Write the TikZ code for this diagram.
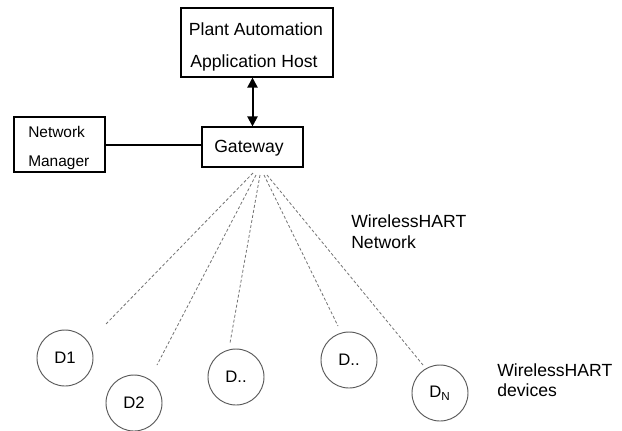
\documentclass[tikz,border=0pt]{standalone}
\usepackage{fontspec}
\setmainfont{Liberation Sans}
\usetikzlibrary{arrows.meta}
\tikzset{
  box/.style={draw=black, line width=0.8pt, rectangle, inner sep=0pt},
  dev/.style={draw=black!65, line width=0.7pt, circle, minimum size=42pt, inner sep=0pt, font=\fontsize{12.5}{14}\selectfont},
  lbl/.style={inner sep=0pt, font=\fontsize{13.2}{15}\selectfont},
  smalllbl/.style={inner sep=0pt, font=\fontsize{11.6}{14}\selectfont},
  radio/.style={draw=black!55, line width=0.6pt, dash pattern=on 2.2pt off 1.6pt},
  biarrow/.style={line width=1.5pt, {Triangle[width=7.5pt,length=7.5pt]}-{Triangle[width=7.5pt,length=7.5pt]}},
  wire/.style={line width=1.5pt}
}
\begin{document}
\begin{tikzpicture}[x=0.75pt,y=-0.75pt]
\useasboundingbox[fill=white] (0,0) rectangle (622,430);

% boxes
\node[box, minimum width=114pt, minimum height=51.75pt] (plant) at (257,42.5) {};
\node[lbl, anchor=base] (plantA) at (256,35) {Plant Automation};
\node[lbl, anchor=base] (plantB) at (254,67) {Application Host};

\node[box, minimum width=68.25pt, minimum height=41.25pt] (nm) at (59.5,144.5) {};
\node[smalllbl, anchor=base west] (nmA) at (28,137) {Network};
\node[smalllbl, anchor=base west] (nmB) at (28,166) {Manager};

\node[box, minimum width=75.75pt, minimum height=30pt] (gw) at (252.5,147) {};
\node[lbl, anchor=base] (gwT) at (249,152) {Gateway};

% connectors
\draw[biarrow] (gw.north |- plant.south) -- (gw.north);
\draw[wire] (nm.east) -- (nm.east -| gw.west);

% devices
\node[dev] (d1) at (65,358) {D1};
\node[dev] (d2) at (134,403) {D2};
\node[dev] (d3) at (236,377) {D..};
\node[dev] (d4) at (349,360) {D..};
\node[dev] (dn) at (440,393) {D\textsubscript{N}};

% radio links
\coordinate (s1) at (253,173);
\coordinate (s2) at (256,175);
\coordinate (s3) at (260,175);
\coordinate (s4) at (264,175);
\coordinate (s5) at (267,175);
\coordinate (e1) at (105,325);
\coordinate (e2) at (157,365);
\coordinate (e3) at (230,343);
\coordinate (e4) at (338,326);
\coordinate (e5) at (423,365);
\draw[radio] (s1) -- (e1);
\draw[radio] (s2) -- (e2);
\draw[radio] (s3) -- (e3);
\draw[radio] (s4) -- (e4);
\draw[radio] (s5) -- (e5);

% labels
\node[lbl, anchor=base west] (netA) at (351,227) {WirelessHART};
\node[lbl, anchor=base west] (netB) at (351,248) {Network};
\node[lbl, anchor=base west] (devA) at (497,376) {WirelessHART};
\node[lbl, anchor=base west] (devB) at (497,396) {devices};
\end{tikzpicture}
\end{document}
